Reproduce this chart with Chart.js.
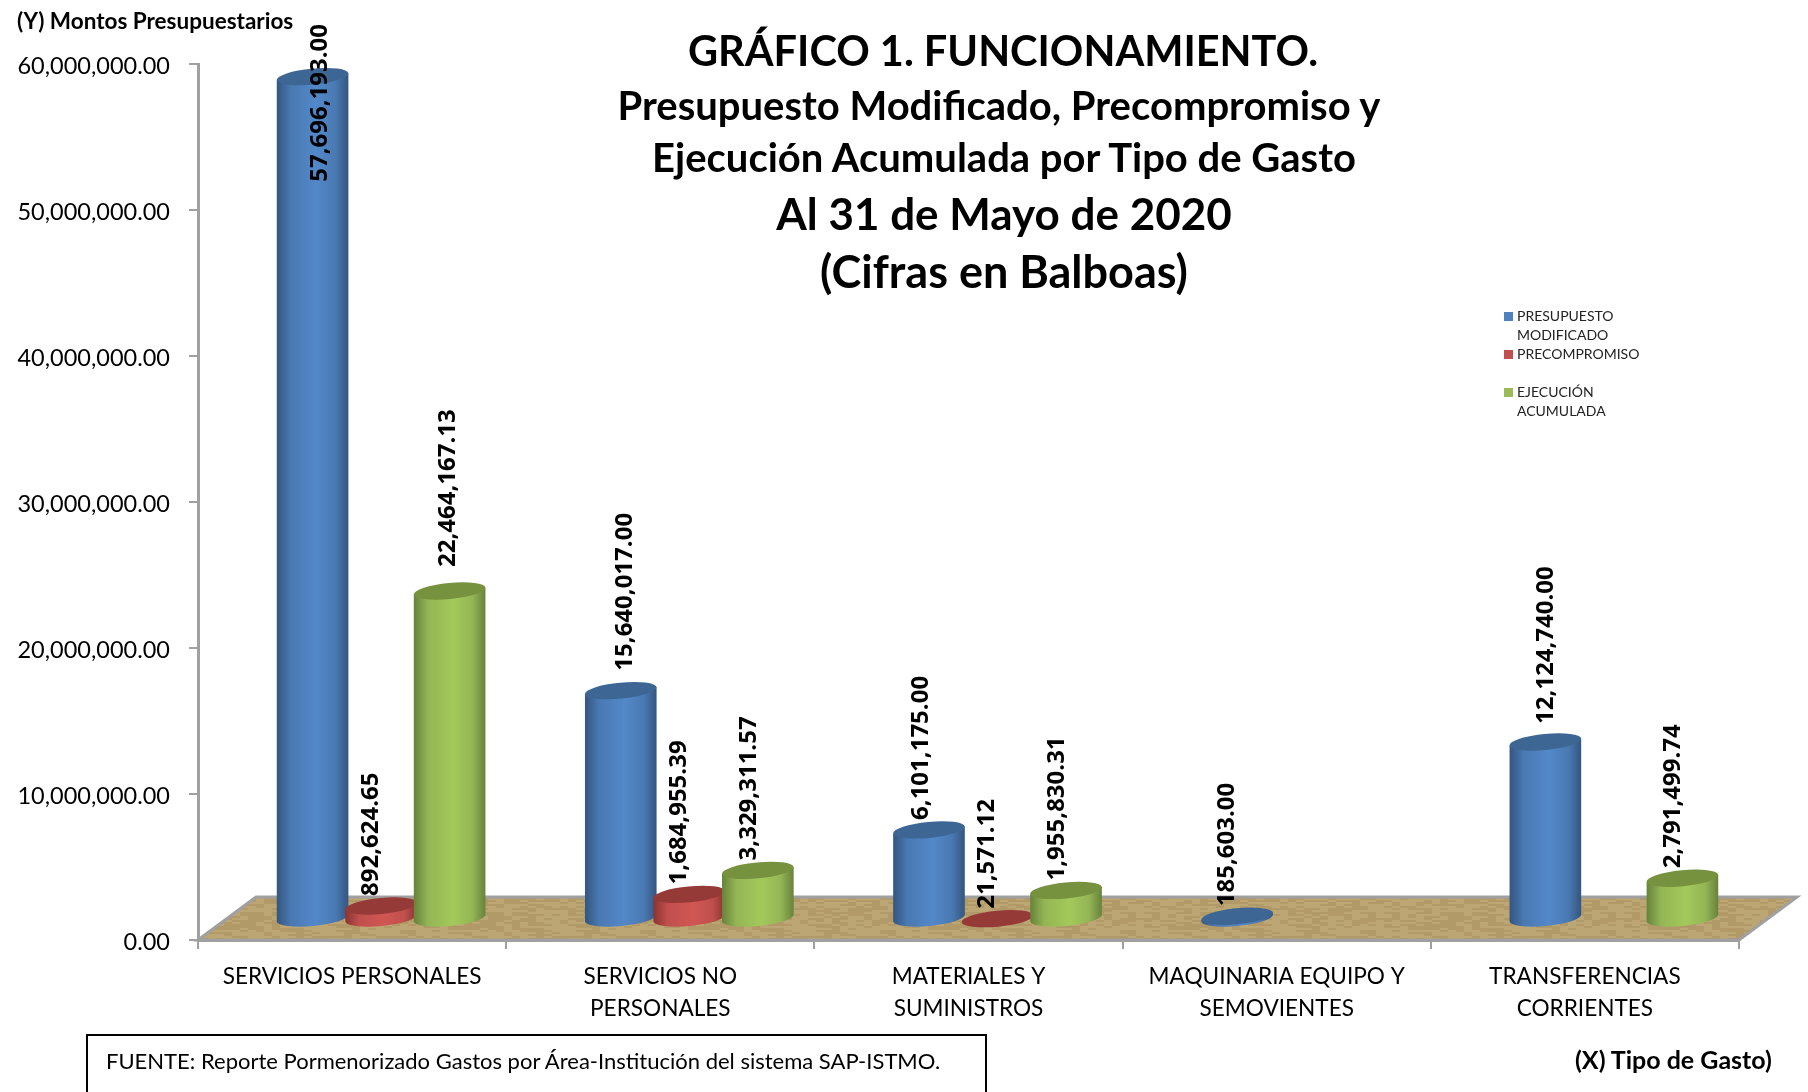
<!DOCTYPE html>
<html lang="es">
<head>
<meta charset="utf-8">
<title>Gráfico 1. Funcionamiento</title>
<script src="https://cdn.jsdelivr.net/npm/chart.js@4"></script>
<style>
    html, body { margin: 0; padding: 0; background: #fff; }
    #contenedor { position: relative; width: 1808px; height: 1092px; overflow: hidden; font-family: Lato, sans-serif; color: #000; }
    #grafico { position: absolute; left: 0; top: 0; }
    .titulo { position: absolute; white-space: nowrap; font-weight: 700; transform: translate(-50%, -50%); }
    .leyenda { position: absolute; left: 1504px; top: 306px; }
    .item { position: relative; height: 38px; padding-left: 13px; font-size: 14px; line-height: 19px; color: #222; }
    .item i { position: absolute; left: 0; top: 6px; width: 9px; height: 9px; }
    #fuente { position: absolute; left: 86px; top: 1034px; width: 901px; height: 70px; border: 2px solid #000; box-sizing: border-box; }
    #fuente span { position: absolute; left: 18px; top: 11px; font-size: 22px; white-space: nowrap; }
    .eje { position: absolute; font-weight: 700; white-space: nowrap; }
</style>
</head>
<body>
<div id="contenedor">
    <canvas id="grafico" width="1808" height="1092"></canvas>
    <div class="titulo" style="left:1003px;top:50px;font-size:41.5px">GRÁFICO 1. FUNCIONAMIENTO.</div>
    <div class="titulo" style="left:999px;top:105px;font-size:40px">Presupuesto Modificado, Precompromiso y</div>
    <div class="titulo" style="left:1004px;top:157px;font-size:40px">Ejecución Acumulada por Tipo de Gasto</div>
    <div class="titulo" style="left:1004px;top:213px;font-size:44px">Al 31 de Mayo de 2020</div>
    <div class="titulo" style="left:1004px;top:271px;font-size:45px">(Cifras en Balboas)</div>
    <div class="eje" style="left:17px;top:7px;font-size:22.5px">(Y) Montos Presupuestarios</div>
    <div class="eje" style="left:1575px;top:1044px;font-size:25px">(X) Tipo de Gasto)</div>
    <div class="leyenda" id="leyenda"></div>
    <div id="fuente"><span>FUENTE: Reporte Pormenorizado Gastos por Área-Institución del sistema SAP-ISTMO.</span></div>
</div>
<script>
// Datos del gráfico
const categorias = [
    'SERVICIOS PERSONALES',
    ['SERVICIOS NO', 'PERSONALES'],
    ['MATERIALES Y', 'SUMINISTROS'],
    ['MAQUINARIA EQUIPO Y', 'SEMOVIENTES'],
    ['TRANSFERENCIAS', 'CORRIENTES']
];
const presupuestoModificado = [57696193.00, 15640017.00, 6101175.00, 185603.00, 12124740.00];
const precompromiso = [892624.65, 1684955.39, 21571.12, null, null];
const ejecucionAcumulada = [22464167.13, 3329311.57, 1955830.31, null, 2791499.74];
const nombresSeries = [['PRESUPUESTO', 'MODIFICADO'], ['PRECOMPROMISO'], ['EJECUCIÓN', 'ACUMULADA']];

// Colores: leyenda, borde oscuro, centro claro y tapa del cilindro
const colorLeyenda = ['#4a79b2', '#c0504d', '#94b555'];
const colorOscuro = ['#34557f', '#8a3331', '#66823a'];
const colorClaro = ['#5288c9', '#d05653', '#a3c95b'];
const colorTapa = ['#3e6695', '#963a38', '#76923f'];

// Desplazamiento de la perspectiva 3D respecto al eje
const desplX = 29;
const desplY = -21;
const fondoX = 58;
const fondoY = -43;
const radioY = 8;
const giro = -5.5 * Math.PI / 180;

// Ajuste manual de las etiquetas que en el original no van centradas igual
const ajusteEtiquetaX = [[18, 14, 2, 0, 11], [0, 0, 0, 0, 0], [9, 1, 1, 0, 1]];
const ajusteEtiquetaY = [[0, -10, 0, 0, -8], [0, 0, 0, 0, 0], [-14, 0, 0, 0, 0]];

function formato(valor) {
    return valor.toLocaleString('en-US', { minimumFractionDigits: 2, maximumFractionDigits: 2 });
}

// Textura del piso, con ruido fijo
function texturaPiso(ctx) {
    const c = document.createElement('canvas');
    c.width = 240;
    c.height = 60;
    const p = c.getContext('2d');
    p.fillStyle = '#b9a16f';
    p.fillRect(0, 0, 240, 60);
    for (let y = 0; y < 60; y += 2) {
        for (let x = 0; x < 240; x += 8) {
            const n = Math.sin(x * 12.9898 + y * 78.233) * 43758.5453;
            const t = n - Math.floor(n);
            p.fillStyle = t > 0.5 ? 'rgba(215,195,145,0.14)' : 'rgba(125,100,55,0.12)';
            p.fillRect(x, y, 8, 2);
        }
    }
    return ctx.createPattern(c, 'repeat');
}

const pluginPiso = {
    id: 'piso',
    beforeDatasetsDraw(chart) {
        const { ctx, chartArea: a } = chart;
        ctx.save();
        ctx.beginPath();
        ctx.moveTo(a.left, a.bottom);
        ctx.lineTo(a.left + fondoX, a.bottom + fondoY);
        ctx.lineTo(a.right + fondoX, a.bottom + fondoY);
        ctx.lineTo(a.right, a.bottom);
        ctx.closePath();
        ctx.fillStyle = texturaPiso(ctx);
        ctx.fill();
        ctx.strokeStyle = '#a0a0a0';
        ctx.lineWidth = 3;
        ctx.stroke();
        ctx.restore();
    }
};

// Dibuja cada barra como cilindro a partir de los elementos de Chart.js
function dibujarCilindro(ctx, el, i) {
    const x = el.x + desplX;
    const rx = el.width / 2;
    const arriba = el.y + desplY;
    const abajo = el.base + desplY;
    const dx = rx * Math.cos(giro);
    const dy = rx * Math.sin(giro);

    const grad = ctx.createLinearGradient(x - rx, 0, x + rx, 0);
    grad.addColorStop(0, colorOscuro[i]);
    grad.addColorStop(0.2, colorLeyenda[i]);
    grad.addColorStop(0.55, colorClaro[i]);
    grad.addColorStop(0.82, colorLeyenda[i]);
    grad.addColorStop(1, colorOscuro[i]);

    ctx.beginPath();
    ctx.ellipse(x, abajo, rx, radioY, giro, 0, Math.PI);
    ctx.lineTo(x - dx, arriba - dy);
    ctx.lineTo(x + dx, arriba + dy);
    ctx.closePath();
    ctx.fillStyle = grad;
    ctx.fill();

    ctx.beginPath();
    ctx.ellipse(x, arriba, rx, radioY, giro, 0, Math.PI * 2);
    ctx.fillStyle = colorTapa[i];
    ctx.fill();
}

const pluginCilindros = {
    id: 'cilindros',
    afterDatasetsDraw(chart) {
        const ctx = chart.ctx;
        ctx.save();
        chart.data.datasets.forEach((ds, i) => {
            chart.getDatasetMeta(i).data.forEach((el, j) => {
                if (ds.data[j] !== null) dibujarCilindro(ctx, el, i);
            });
        });

        // Etiquetas de valor giradas
        ctx.font = '700 24px "Open Sans", sans-serif';
        ctx.fillStyle = '#000';
        ctx.textBaseline = 'middle';
        ctx.textAlign = 'left';
        chart.data.datasets.forEach((ds, i) => {
            chart.getDatasetMeta(i).data.forEach((el, j) => {
                if (ds.data[j] === null) return;
                const texto = formato(ds.data[j]);
                const ancho = ctx.measureText(texto).width;
                let pie = el.y + desplY - 10 + ajusteEtiquetaY[i][j];
                if (pie - ancho < 24) pie = 24 + ancho;
                ctx.save();
                ctx.translate(el.x + desplX - 10 + ajusteEtiquetaX[i][j], pie);
                ctx.rotate(-Math.PI / 2);
                ctx.fillText(texto, 0, 0);
                ctx.restore();
            });
        });
        ctx.restore();
    }
};

// Leyenda a partir de las series
document.getElementById('leyenda').innerHTML = nombresSeries.map((nombre, i) =>
    `<div class="item"><i style="background:${['#4f81bd', '#c0504d', '#9bbb59'][i]}"></i>${nombre.join('<br>')}</div>`
).join('');

const ctx = document.getElementById('grafico').getContext('2d');
new Chart(ctx, {
    type: 'bar',
    data: {
        labels: categorias,
        datasets: [presupuestoModificado, precompromiso, ejecucionAcumulada].map((valores, i) => ({
            label: nombresSeries[i].join(' '),
            data: valores,
            backgroundColor: 'rgba(0,0,0,0)',
            categoryPercentage: 0.667,
            barPercentage: 1.05
        }))
    },
    options: {
        responsive: false,
        animation: false,
        layout: { padding: { top: 64, right: 69, left: 0, bottom: 0 } },
        plugins: { legend: { display: false }, tooltip: { enabled: false } },
        scales: {
            x: {
                afterFit: escala => { escala.height = 152; },
                grid: { drawOnChartArea: false, tickLength: 9, color: '#a0a0a0', lineWidth: 2 },
                border: { color: '#a0a0a0', width: 3 },
                ticks: {
                    color: '#000',
                    font: { family: 'Lato, sans-serif', size: 22.6, lineHeight: 1.41 },
                    maxRotation: 0,
                    autoSkip: false,
                    padding: 12
                }
            },
            y: {
                min: 0,
                max: 60000000,
                afterFit: escala => { escala.width = 198; },
                grid: { drawOnChartArea: false, tickLength: 9, color: '#a0a0a0', lineWidth: 2 },
                border: { color: '#a0a0a0', width: 3 },
                ticks: {
                    stepSize: 10000000,
                    color: '#000',
                    font: { family: 'Lato, sans-serif', size: 23.5 },
                    padding: 19,
                    labelOffset: 2,
                    callback: valor => formato(valor)
                }
            }
        }
    },
    plugins: [pluginPiso, pluginCilindros]
});
</script>
</body>
</html>
